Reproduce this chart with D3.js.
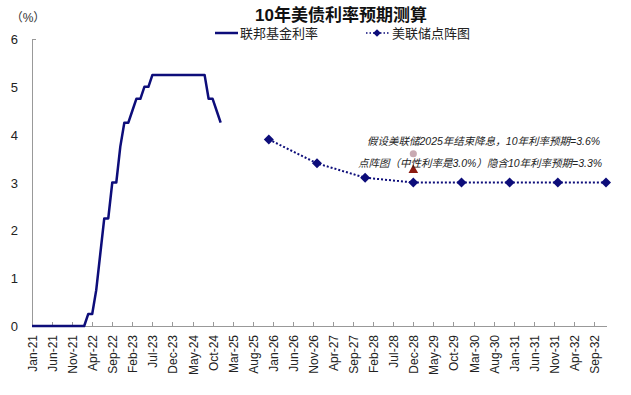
<!DOCTYPE html>
<html><head><meta charset="utf-8">
<script src="https://cdn.jsdelivr.net/npm/d3@7"></script>
<style>
body{margin:0;background:#fff;}
svg text{font-family:"Liberation Sans","Noto Sans CJK SC",sans-serif;}
</style></head>
<body><svg id="c" width="631" height="395"></svg>
<script>
// ---- data ----
const tickLabels = ["Jan-21","Jun-21","Nov-21","Apr-22","Sep-22","Feb-23","Jul-23","Dec-23","May-24","Oct-24","Mar-25","Aug-25","Jan-26","Jun-26","Nov-26","Apr-27","Sep-27","Feb-28","Jul-28","Dec-28","May-29","Oct-29","Mar-30","Aug-30","Jan-31","Jun-31","Nov-31","Apr-32","Sep-32"];
// Fed funds (lower bound), monthly Jan-21 .. Dec-24 (month index 0..47)
const fedFunds = [
 0,0,0,0,0,0,0,0,0,0,0,0,
 0,0,0.25,0.25,0.75,1.5,2.25,2.25,3.0,3.0,3.75,4.25,
 4.25,4.5,4.75,4.75,5.0,5.0,5.25,5.25,5.25,5.25,5.25,5.25,
 5.25,5.25,5.25,5.25,5.25,5.25,5.25,5.25,4.75,4.75,4.5,4.25
];
// Fed dot plot (median), Dec of each year 2025..2032
const dotMonths = [59,71,83,95,107,119,131,143];
const dotValues = [3.9,3.4,3.1,3.0,3.0,3.0,3.0,3.0];
const yTicks = [0,1,2,3,4,5,6];
const assumptions = [
 {month:95, value:3.6, shape:"circle", text:"假设美联储2025年结束降息，10年利率预期=3.6%"},
 {month:95, value:3.3, shape:"triangle", text:"点阵图（中性利率是3.0%）隐含10年利率预期=3.3%"}
];

// ---- layout ----
const svg = d3.select("#c");
const x = d3.scaleLinear().domain([0,144]).range([32,610]);
const y = d3.scaleLinear().domain([0,6]).range([326,39]);
const navy = "#0d0d7a";

// title
svg.append("text").attr("x",341).attr("y",21).attr("text-anchor","middle")
  .attr("font-size",17).attr("font-weight","bold").attr("fill","#111").text("10年美债利率预期测算");
svg.append("text").attr("x",28).attr("y",22).attr("text-anchor","middle")
  .attr("font-size",12).attr("fill","#333").text("（%）");

// y axis
svg.append("line").attr("x1",32.5).attr("x2",32.5).attr("y1",y(6)).attr("y2",y(0)).attr("stroke","#999");
svg.append("line").attr("x1",32.5).attr("x2",36).attr("y1",y(6)+0.5).attr("y2",y(6)+0.5).attr("stroke","#999");
svg.selectAll(".yl").data(yTicks).enter().append("text")
  .attr("x",18).attr("y",d=>y(d)+5).attr("text-anchor","end")
  .attr("font-size",13).attr("fill","#222").text(d=>d);

// x axis
svg.append("line").attr("x1",32).attr("x2",607).attr("y1",326.5).attr("y2",326.5).attr("stroke","#999");
svg.selectAll(".xt").data(tickLabels).enter().append("line")
  .attr("x1",(d,i)=>Math.round(x(i*5))+0.5).attr("x2",(d,i)=>Math.round(x(i*5))+0.5)
  .attr("y1",322).attr("y2",326).attr("stroke","#999");
svg.selectAll(".xl").data(tickLabels).enter().append("text")
  .attr("transform",(d,i)=>`translate(${x(i*5)+5},335) rotate(-90)`)
  .attr("text-anchor","end").attr("font-size",12).attr("fill","#222").text(d=>d);

// fed funds line
svg.append("path").datum(fedFunds)
  .attr("d", d3.line().x((d,i)=>x(i)).y(d=>y(d)))
  .attr("fill","none").attr("stroke",navy).attr("stroke-width",2.5).attr("stroke-linejoin","round");

// dot plot line
const dots = dotMonths.map((m,i)=>({m, v:dotValues[i]}));
svg.append("path").datum(dots)
  .attr("d", d3.line().x(d=>x(d.m)).y(d=>y(d.v)))
  .attr("fill","none").attr("stroke",navy).attr("stroke-width",2).attr("stroke-dasharray","2,2");
const diamond = d3.symbol().type(d3.symbolSquare).size(50);
svg.selectAll(".dm").data(dots).enter().append("path")
  .attr("d",diamond).attr("transform",d=>`translate(${x(d.m)},${y(d.v)}) rotate(45)`).attr("fill",navy);

// assumptions
svg.selectAll(".as").data(assumptions).enter().append("path")
  .attr("d",d=>d3.symbol().type(d.shape==="circle"?d3.symbolCircle:d3.symbolTriangle).size(40)())
  .attr("transform",d=>`translate(${x(d.month)},${y(d.value)+(d.shape==="circle"?0:2)})`)
  .attr("fill",d=>d.shape==="circle"?"#c9aab2":"#8b1a10");
svg.append("text").attr("x",367).attr("y",145).attr("font-size",10.5).attr("font-style","italic")
  .attr("fill","#222").text(assumptions[0].text);
svg.append("text").attr("x",358).attr("y",167).attr("font-size",10.5).attr("font-style","italic")
  .attr("fill","#222").text(assumptions[1].text);

// legend
svg.append("line").attr("x1",215).attr("x2",238).attr("y1",33).attr("y2",33).attr("stroke",navy).attr("stroke-width",2.5);
svg.append("text").attr("x",240).attr("y",38).attr("font-size",13).attr("fill","#222").text("联邦基金利率");
svg.append("line").attr("x1",366).attr("x2",389).attr("y1",33).attr("y2",33).attr("stroke",navy).attr("stroke-width",1.5).attr("stroke-dasharray","1.5,2");
svg.append("path").attr("d",d3.symbol().type(d3.symbolSquare).size(30)()).attr("transform","translate(377,33) rotate(45)").attr("fill",navy);
svg.append("text").attr("x",392).attr("y",38).attr("font-size",13).attr("fill","#222").text("美联储点阵图");
</script></body></html>
